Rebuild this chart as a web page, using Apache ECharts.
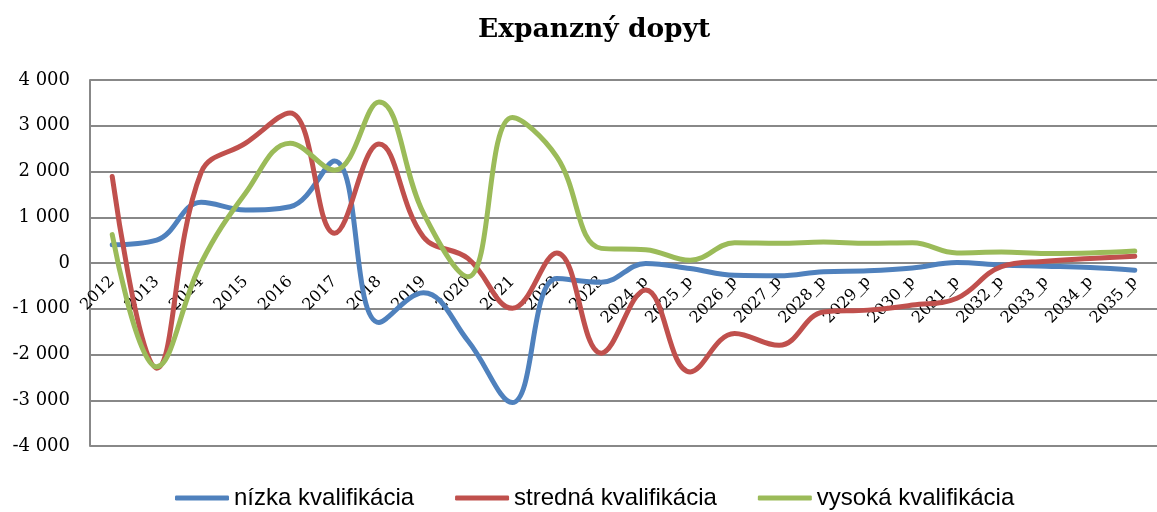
<!DOCTYPE html>
<html>
<head>
<meta charset="utf-8">
<script src="https://cdn.jsdelivr.net/npm/echarts@6/dist/echarts.min.js"></script>
<style>
html,body{margin:0;padding:0;background:#fff;}
#chart{width:1157px;height:512px;}
</style>
</head>
<body>
<div id="chart"></div>
<script>
const categories = ['2012','2013','2014','2015','2016','2017','2018','2019','2020','2021','2022','2023',
  '2024_p','2025_p','2026_p','2027_p','2028_p','2029_p','2030_p','2031_p','2032_p','2033_p','2034_p','2035_p'];
const nizka = [400, 500, 1330, 1160, 1230, 2230, -1300, -650, -1700, -3050, -340, -420,
  -10, -120, -270, -280, -190, -170, -110, 10, -45, -70, -100, -160];
const stredna = [1890, -2300, 1980, 2620, 3280, 650, 2600, 570, 100, -990, 220, -1970,
  -590, -2380, -1540, -1800, -1070, -1030, -920, -770, -80, 40, 100, 150];
const vysoka = [620, -2270, 0, 1530, 2620, 2030, 3520, 1090, -300, 3180, 2320, 320,
  290, 60, 440, 430, 460, 430, 440, 220, 240, 210, 220, 260];
const seriesNames = ['nízka kvalifikácia', 'stredná kvalifikácia', 'vysoká kvalifikácia'];
const colors = ['#4F81BD', '#C0504D', '#9BBB59'];

function fmt(v) {
  const neg = v < 0;
  const s = String(Math.abs(v)).replace(/\B(?=(\d{3})+(?!\d))/g, ' ');
  return (neg ? '-' : '') + s;
}

const chart = echarts.init(document.getElementById('chart'), null, {renderer: 'canvas'});
const mk = (name, data, color) => ({
  name, type: 'line', data, smooth: 0.4, showSymbol: false, symbol: 'none',
  lineStyle: {color, width: 5, cap: 'round', join: 'round'},
  itemStyle: {color},
  animation: false
});
chart.setOption({
  animation: false,
  backgroundColor: '#fff',
  title: {
    text: 'Expanzný dopyt',
    left: 473, top: 12,
    textStyle: {fontFamily: 'DejaVu Serif', fontWeight: 'bold', fontSize: 26.5, color: '#000'}
  },
  legend: {
    left: 170, top: 481,
    itemWidth: 54, itemHeight: 5, itemGap: 41,
    icon: 'roundRect',
    textStyle: {fontFamily: 'Liberation Sans', fontSize: 24, color: '#000'},
    data: seriesNames
  },
  grid: {left: 90, top: 80, width: 1080, bottom: 66, containLabel: false},
  xAxis: {
    type: 'category', data: categories, boundaryGap: true,
    position: 'bottom', offset: -183,
    axisLine: {show: true, onZero: false, lineStyle: {color: '#888888', width: 2}},
    axisTick: {show: false},
    axisLabel: {interval: 0, rotate: 45, margin: 16, fontFamily: 'DejaVu Serif', fontSize: 16, color: '#000'},
    splitLine: {show: false}
  },
  yAxis: {
    type: 'value', min: -4000, max: 4000, interval: 1000,
    axisLine: {show: true, lineStyle: {color: '#888888', width: 2}},
    axisTick: {show: false},
    axisLabel: {margin: 20, formatter: fmt, fontFamily: 'DejaVu Serif', fontSize: 18, color: '#000'},
    splitLine: {show: true, lineStyle: {color: '#888888', width: 2}}
  },
  series: [mk(seriesNames[0], nizka, colors[0]), mk(seriesNames[1], stredna, colors[1]), mk(seriesNames[2], vysoka, colors[2])]
});
</script>
</body>
</html>
